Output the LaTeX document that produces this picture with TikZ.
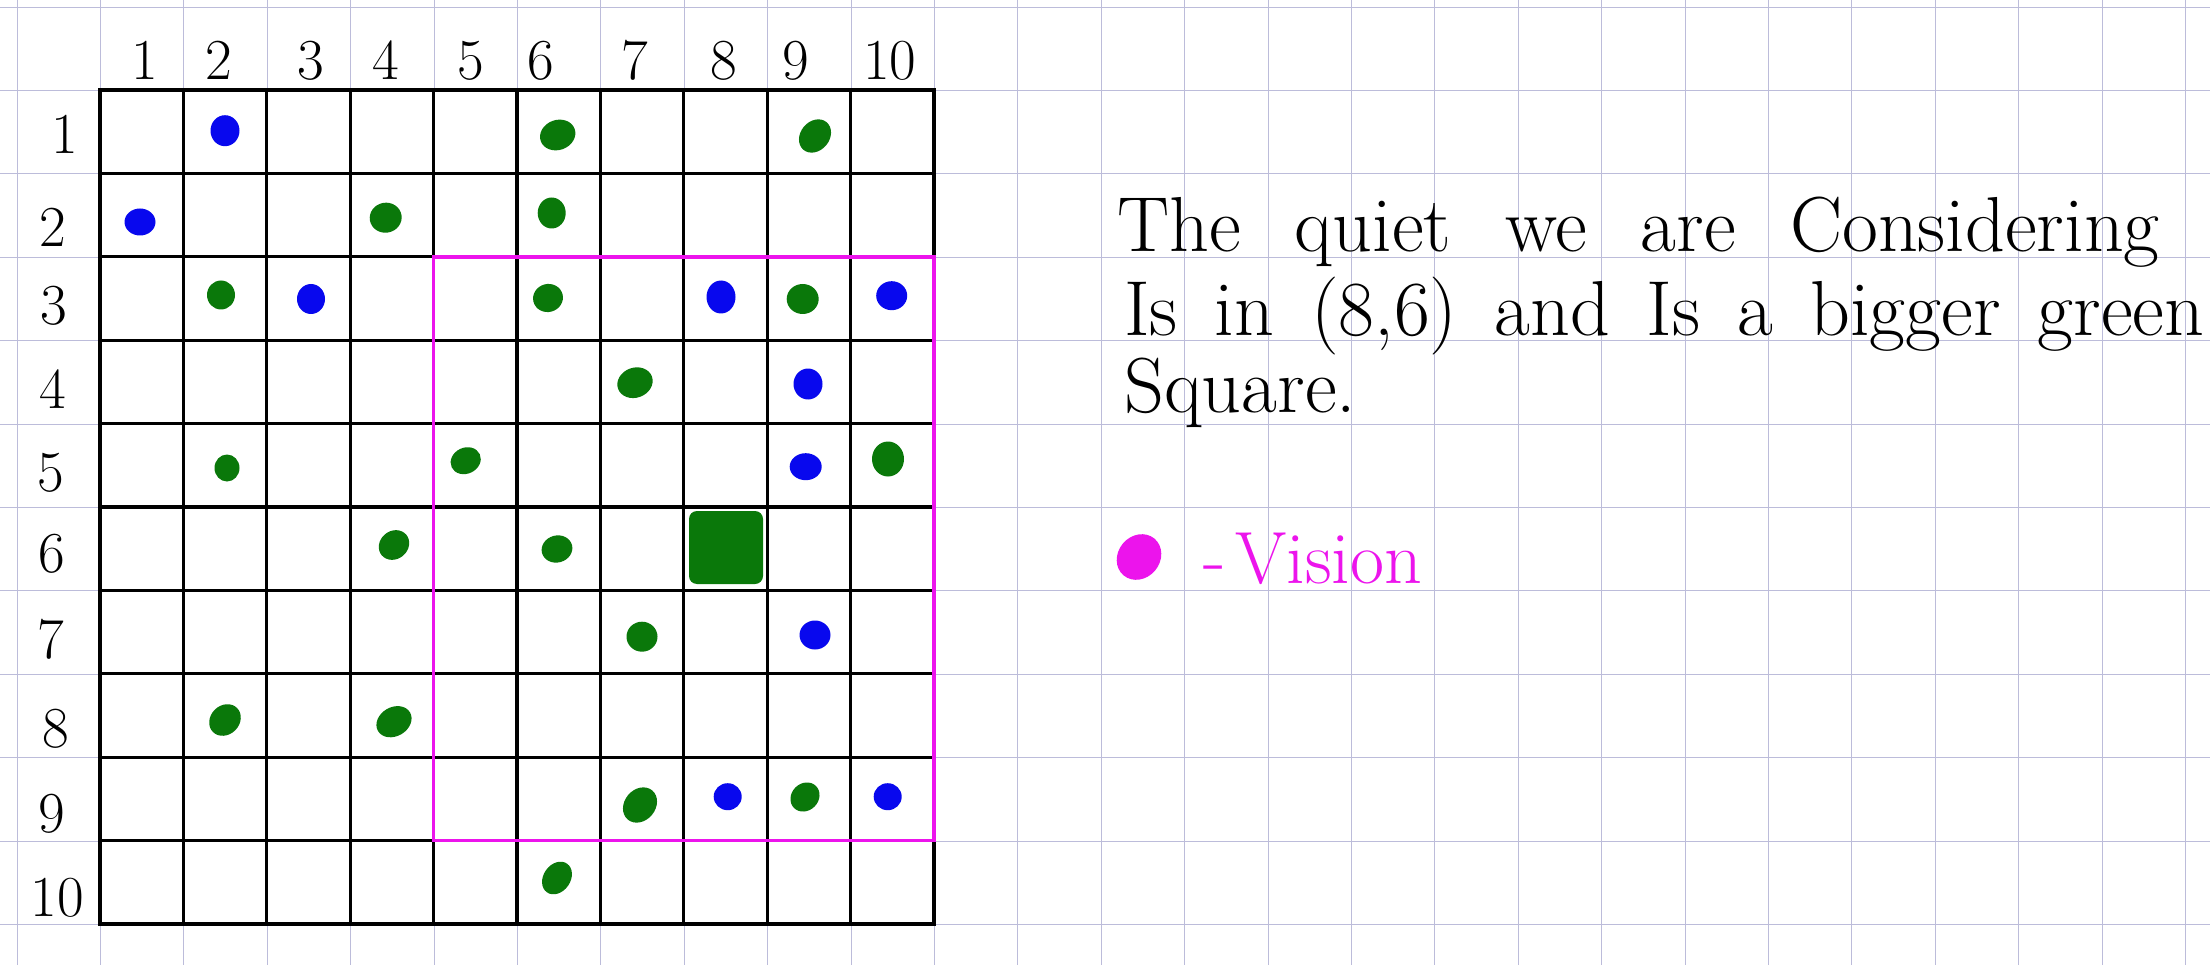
\documentclass[tikz,border=0pt]{standalone}
\usepackage{fontspec}
\usetikzlibrary{shapes.geometric}
\definecolor{gridlav}{RGB}{188,188,218}
\definecolor{dotgreen}{RGB}{10,120,10}
\definecolor{dotblue}{RGB}{8,8,238}
\definecolor{vismag}{RGB}{236,20,236}
\begin{document}
\begin{tikzpicture}[x=1pt,y=-1pt,
  bgline/.style={draw=gridlav, line width=1pt},
  tline/.style={draw=black, line width=3.2pt, line cap=rect},
  visbox/.style={draw=vismag, line width=3.6pt, line join=miter},
  lbl/.style={font=\fontsize{58}{60}\selectfont, inner sep=0pt},
  note/.style={font=\fontsize{78}{80}\selectfont, inner sep=0pt, anchor=base west},
  gdot/.style n args={3}{ellipse, fill=dotgreen, draw=none, inner sep=0pt, minimum width=#1, minimum height=#2, rotate=#3},
  bdot/.style n args={3}{ellipse, fill=dotblue, draw=none, inner sep=0pt, minimum width=#1, minimum height=#2, rotate=#3}]
\path[use as bounding box, fill=white] (0,0) rectangle (2210,965);
% graph paper
\foreach \k in {0,...,26} {
  \pgfmathsetmacro\xx{round(16.6+83.4*\k)+0.5}
  \draw[bgline] (\xx,0) -- (\xx,965);
}
\foreach \k in {0,...,11} {
  \pgfmathsetmacro\yy{round(6.6+83.4*\k)+0.5}
  \draw[bgline] (0,\yy) -- (2210,\yy);
}
% table
\foreach \i in {0,...,10} {
  \draw[tline] ({100+83.4*\i},90) -- ({100+83.4*\i},924);
  \draw[tline] (100,{90+83.4*\i}) -- (934,{90+83.4*\i});
}
% vision box
\draw[visbox] (433.6,256.8) rectangle (934,840.6);
% column labels
\foreach \n/\x in {1/145,2/219,3/310.6,4/386,5/470.7,6/541,7/634.6,8/724,9/796,10/889.7}
  \node[lbl, anchor=base] (c\n) at (\x,80) {\n};
% row labels
\foreach \n/\x/\y in {1/65/134,2/53/227,3/54/306,4/53/389,5/51/473,6/52/554,7/51/639,8/56/729,9/52/814,10/57/898}
  \node[lbl, anchor=center] (r\n) at (\x,\y) {\n};
% dots
\node[bdot={29}{31}{0}] (b-1-2) at (225,130.7) {};
\node[gdot={36}{30}{20}] (g-1-6) at (557.7,135) {};
\node[gdot={36}{29}{50}] (g-1-9) at (815,136) {};
\node[bdot={31}{27}{0}] (b-2-1) at (140,222) {};
\node[gdot={32}{30}{10}] (g-2-4) at (385.7,217.7) {};
\node[gdot={28}{31}{0}] (g-2-6) at (551.7,213) {};
\node[gdot={28}{29}{0}] (g-3-2) at (221,295) {};
\node[bdot={28}{30}{0}] (b-3-3) at (311,299) {};
\node[gdot={30}{28}{15}] (g-3-6) at (548,298) {};
\node[bdot={29}{33}{0}] (b-3-8) at (721,297) {};
\node[gdot={32}{30}{0}] (g-3-9) at (802.7,299) {};
\node[bdot={31}{29}{0}] (b-3-10) at (891.7,295.7) {};
\node[gdot={36}{30}{20}] (g-4-7) at (635,382.7) {};
\node[bdot={29}{31}{0}] (b-4-9) at (808,384) {};
\node[gdot={25}{27}{0}] (g-5-2) at (227,468) {};
\node[gdot={31}{26}{25}] (g-5-5) at (465.7,460.7) {};
\node[bdot={32}{27}{0}] (b-5-9) at (805.7,466.7) {};
\node[gdot={32}{35}{0}] (g-5-10) at (888,459) {};
\node[gdot={32}{28}{40}] (g-6-4) at (394,545) {};
\node[gdot={31}{27}{15}] (g-6-6) at (557,549) {};
\node[fill=dotgreen, draw=none, inner sep=0pt, minimum width=74, minimum height=73, rounded corners=8pt] (big) at (726,547.5) {};
\node[gdot={31}{30}{0}] (g-7-7) at (642,636.7) {};
\node[bdot={31}{29}{0}] (b-7-9) at (815,635) {};
\node[gdot={34}{29}{45}] (g-8-2) at (225,720) {};
\node[gdot={37}{29}{30}] (g-8-4) at (394,721.7) {};
\node[gdot={38}{31}{50}] (g-9-7) at (640,805) {};
\node[bdot={28}{27}{0}] (b-9-8) at (727.7,796.7) {};
\node[gdot={31}{27}{45}] (g-9-9) at (805,797) {};
\node[bdot={28}{27}{0}] (b-9-10) at (887.7,796.7) {};
\node[gdot={35}{27}{55}] (g-10-6) at (557,878) {};
% note text
\node[note] (t1) at (1117,252) {\spaceskip=54pt\relax The quiet we are Considering};
\node[note] (t2) at (1124,336) {\spaceskip=37pt\relax Is in (8,6) and Is a bigger green};
\node[note] (t3) at (1124,412) {Square.};
% legend
\node[ellipse, fill=vismag, draw=none, inner sep=0pt, minimum width=48, minimum height=42, rotate=50] (blob) at (1139,557) {};
\node[note, font=\fontsize{74}{76}\selectfont, text=vismag] (vis) at (1203,583) {-\hspace{10pt}Vision};
\end{tikzpicture}
\end{document}
